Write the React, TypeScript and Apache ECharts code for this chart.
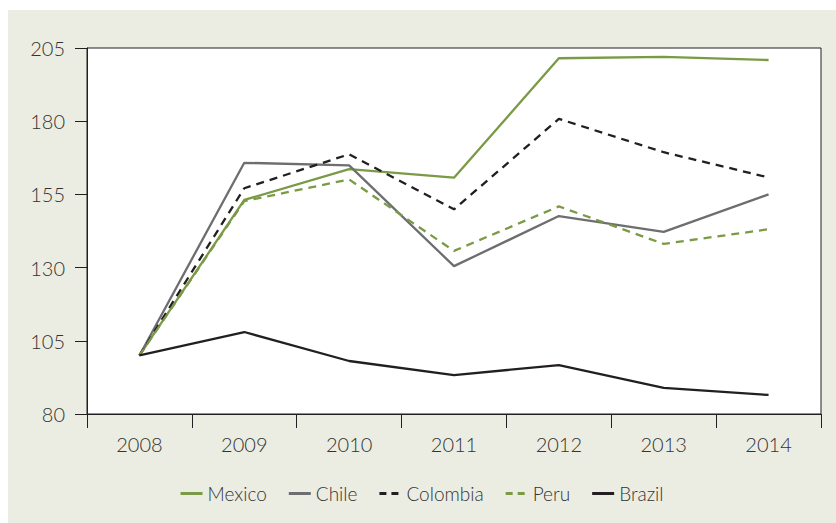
import React, { useEffect, useRef } from "react";
import * as echarts from "echarts";

const years = ["2008", "2009", "2010", "2011", "2012", "2013", "2014"];
const mexico = [100, 153.1, 163.6, 160.7, 201.5, 202.0, 200.9];
const chile = [100, 165.8, 164.9, 130.5, 147.6, 142.2, 155.0];
const colombia = [100, 157.1, 168.7, 149.9, 180.8, 169.4, 160.8];
const peru = [100, 152.7, 160.1, 135.7, 150.9, 138.1, 143.1];
const brazil = [100, 108.0, 98.1, 93.3, 96.7, 88.9, 86.5];
const names = ["Mexico", "Chile", "Colombia", "Peru", "Brazil"];

const GREEN = "#7a9a45";
const GRAY = "#6d6e71";
const BLACK = "#231f20";
const FONT = "Lato";
const SOLID_ICON = "path://M0 0H22V3H0Z";
const DASH_ICON = "path://M0 0H7V3H0Z M12 0H19V3H12Z M22 0H22V3H22Z";

export default function App() {
  const ref = useRef<HTMLDivElement>(null);
  useEffect(() => {
    if (!ref.current) return;
    const chart = echarts.init(ref.current, undefined, { renderer: "svg" });
    const mk = (name: string, data: number[], color: string, dashed: boolean) => ({
      name,
      type: "line",
      data,
      symbol: "none",
      showSymbol: false,
      lineStyle: { color, width: 2.3, type: dashed ? [8, 6] : "solid" },
      itemStyle: { color },
    });
    const dashed = [false, false, true, true, false];
    chart.setOption({
      animation: false,
      backgroundColor: "#ecede2",
      textStyle: { fontFamily: FONT },
      grid: {
        left: 79,
        right: 15,
        top: 38,
        bottom: 109,
        show: true,
        backgroundColor: "#ffffff",
        borderColor: BLACK,
        borderWidth: 1,
      },
      legend: {
        bottom: 15,
        left: "center",
        itemWidth: 22,
        itemHeight: 3,
        itemGap: 22,
        textStyle: { fontFamily: FONT, fontSize: 19, color: "#333333", fontWeight: 300 },
        data: names.map((n, i) => ({ name: n, icon: dashed[i] ? DASH_ICON : SOLID_ICON })),
      },
      xAxis: {
        type: "category",
        data: years,
        boundaryGap: true,
        axisLine: { lineStyle: { color: BLACK, width: 1 } },
        axisTick: { show: true, length: 14, lineStyle: { color: BLACK } },
        axisLabel: { fontFamily: FONT, fontSize: 20, color: "#333333", margin: 20, fontWeight: 300 },
        splitLine: { show: false },
      },
      yAxis: {
        type: "value",
        min: 80,
        max: 205,
        interval: 25,
        axisLine: { show: true, lineStyle: { color: BLACK, width: 1 } },
        axisTick: { show: true, length: 12, lineStyle: { color: BLACK } },
        axisLabel: { fontFamily: FONT, fontSize: 20, color: "#333333", margin: 22, fontWeight: 300 },
        splitLine: { show: false },
      },
      series: [
        mk("Mexico", mexico, GREEN, false),
        mk("Chile", chile, GRAY, false),
        mk("Colombia", colombia, BLACK, true),
        mk("Peru", peru, GREEN, true),
        mk("Brazil", brazil, BLACK, false),
      ],
    });
    return () => chart.dispose();
  }, []);
  return (
    <div
      ref={ref}
      style={{ position: "absolute", left: 8, top: 10, width: 828, height: 513 }}
    />
  );
}
